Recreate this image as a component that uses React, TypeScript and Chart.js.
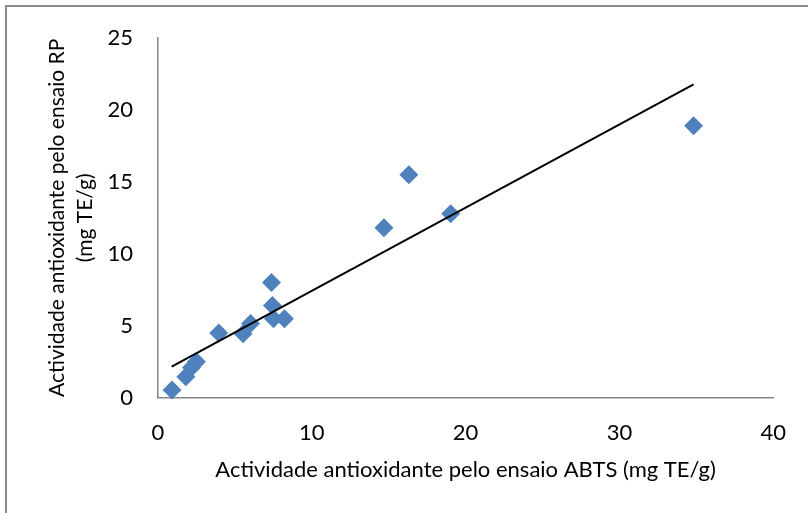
import React, { useEffect, useRef } from "react";
import { Chart, registerables } from "chart.js";

Chart.register(...registerables);

// Data
const abtsValues = [0.91, 1.81, 2.18, 2.5, 3.95, 5.53, 6.02, 7.38, 7.44, 7.51, 8.22, 14.69, 16.31, 19.03, 34.82];
const rpValues = [0.52, 1.44, 2.09, 2.48, 4.48, 4.43, 5.15, 8.01, 6.4, 5.48, 5.48, 11.81, 15.5, 12.78, 18.91];
const trendX = [0.89, 34.82];
const trendY = [2.15, 21.78];
const xTickValues = [0, 10, 20, 30, 40];
const yTickValues = [0, 5, 10, 15, 20, 25];
const xTitle = "Actividade antioxidante pelo ensaio ABTS (mg TE/g)";
const yTitle = ["Actividade antioxidante pelo ensaio RP", "(mg TE/g)"];

const FONT = "Lato, 'Open Sans', sans-serif";

export default function App() {
  const canvasRef = useRef<HTMLCanvasElement | null>(null);

  useEffect(() => {
    const canvas = canvasRef.current;
    if (!canvas) return;
    const points = abtsValues.map((x, i) => ({ x, y: rpValues[i] }));
    const trend = trendX.map((x, i) => ({ x, y: trendY[i] }));

    const chart = new Chart(canvas, {
      type: "scatter",
      data: {
        datasets: [
          {
            label: "Tendência",
            data: trend,
            showLine: true,
            borderColor: "#000000",
            borderWidth: 2,
            pointRadius: 0,
            pointHoverRadius: 0,
            fill: false,
          },
          {
            label: "Amostras",
            data: points,
            pointStyle: "rectRot",
            pointRadius: 9.5,
            pointHoverRadius: 9.5,
            backgroundColor: "#4F81BD",
            borderColor: "#4F81BD",
            borderWidth: 0,
            clip: false,
          } as any,
        ],
      },
      options: {
        responsive: false,
        animation: false,
        devicePixelRatio: 1,
        layout: { padding: { left: 0, right: 32, top: 36, bottom: 0 } },
        plugins: {
          legend: { display: false },
          tooltip: { enabled: false },
        },
        scales: {
          x: {
            type: "linear",
            min: 0,
            max: 40,
            afterBuildTicks: (scale: any) => {
              scale.ticks = xTickValues.map((v) => ({ value: v }));
            },
            afterFit: (scale: any) => {
              scale.height = 115.5;
            },
            grid: { display: false, drawTicks: false, tickLength: 0 },
            border: { display: true, color: "#868686", width: 1.5 },
            ticks: {
              color: "#000000",
              padding: 22,
              font: { family: FONT, size: 22 },
              maxRotation: 0,
            },
            title: {
              display: true,
              text: xTitle,
              color: "#000000",
              font: { family: FONT, size: 22, lineHeight: 1.2 },
              padding: { top: 0, bottom: 29.5 },
            },
          },
          y: {
            type: "linear",
            min: 0,
            max: 25,
            afterBuildTicks: (scale: any) => {
              scale.ticks = yTickValues.map((v) => ({ value: v }));
            },
            afterFit: (scale: any) => {
              scale.width = 158;
            },
            grid: { display: false, drawTicks: false, tickLength: 0 },
            border: { display: true, color: "#868686", width: 1.5 },
            ticks: {
              color: "#000000",
              padding: 25,
              font: { family: FONT, size: 22 },
            },
            title: {
              display: true,
              text: yTitle,
              color: "#000000",
              font: { family: FONT, size: 21, lineHeight: 1.3 },
              padding: { top: 44, bottom: 0 },
            },
          },
        },
      },
    });
    return () => chart.destroy();
  }, []);

  return (
    <div>
      <div
        style={{
          position: "fixed",
          left: 5,
          top: 5,
          width: 1000,
          height: 1000,
          borderLeft: "2px solid #8a8a8a",
          borderTop: "2px solid #8a8a8a",
          boxSizing: "border-box",
          background: "#ffffff",
        }}
      />
      <canvas
        ref={canvasRef}
        width={808}
        height={513}
        style={{ position: "fixed", left: 0, top: 0, width: 808, height: 513, display: "block" }}
      />
    </div>
  );
}
